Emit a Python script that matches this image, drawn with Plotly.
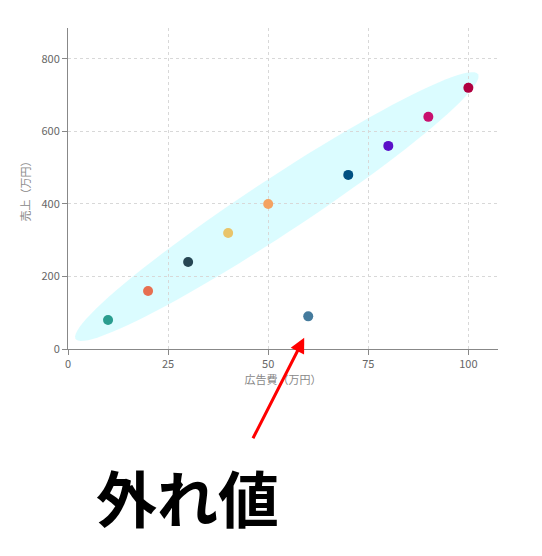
import numpy as np
import plotly.graph_objects as go

# 広告費と売上
ad_cost = [10, 20, 30, 40, 50, 60, 70, 80, 90, 100]
sales = [80, 160, 240, 320, 400, 90, 480, 560, 640, 720]
colors = ["#2a9d8f", "#e76f51", "#264653", "#e9c46a", "#f4a261",
          "#457b9d", "#005082", "#5a10c8", "#c8106e", "#b00040"]

# 楕円（ピクセル基準で作り、データ座標へ変換）
x0px, y0px, sx, sy = 68, 341, 3.93, 0.354
cx, cy, a, b, ang = 273, 202, 236, 27, np.radians(-33.2)
t = np.linspace(0, 2 * np.pi, 100)
px = cx + a * np.cos(t) * np.cos(ang) - b * np.sin(t) * np.sin(ang)
py = cy + a * np.cos(t) * np.sin(ang) + b * np.sin(t) * np.cos(ang)
ex = (px - x0px) / sx
ey = (y0px - py) / sy
path = "M " + " L ".join(f"{x:.2f},{y:.2f}" for x, y in zip(ex, ey)) + " Z"

fig = go.Figure()
fig.add_trace(go.Scatter(x=ad_cost, y=sales, mode="markers",
                         marker=dict(size=10, color=colors), showlegend=False))
fig.add_shape(type="path", path=path, fillcolor="rgba(190,250,255,0.55)",
              line_width=0, layer="below")

fig.add_annotation(x=59, y=31, ax=-52, ay=102, text="", showarrow=True,
                   arrowhead=2, arrowsize=1, arrowwidth=3, arrowcolor="#ff0000")
fig.add_annotation(x=0.277, y=-0.46, xref="paper", yref="paper", text="<b>外れ値</b>",
                   xanchor="center", yanchor="middle", showarrow=False,
                   font=dict(size=61, color="#000", family="Noto Sans CJK JP"))

axis = dict(showgrid=True, gridcolor="#d8d8d8", griddash="3px,3px", showline=True,
            linecolor="#888", ticks="outside", tickcolor="#888", zeroline=False,
            tickfont=dict(size=11, color="#666"))
fig.update_xaxes(range=[0, 107.4], tickvals=[0, 25, 50, 75, 100],
                 title=dict(text="広告費（万円）", font=dict(size=11, color="#888"), standoff=4), **axis)
fig.update_yaxes(range=[0, 885], tickvals=[0, 200, 400, 600, 800],
                 title=dict(text="売上（万円）", font=dict(size=11, color="#888"), standoff=8), **axis)
fig.update_layout(width=542, height=556, margin=dict(l=60, r=52, t=20, b=215),
                  plot_bgcolor="white", paper_bgcolor="white",
                  font=dict(family="Noto Sans CJK JP"))
fig.write_html("out.html")
